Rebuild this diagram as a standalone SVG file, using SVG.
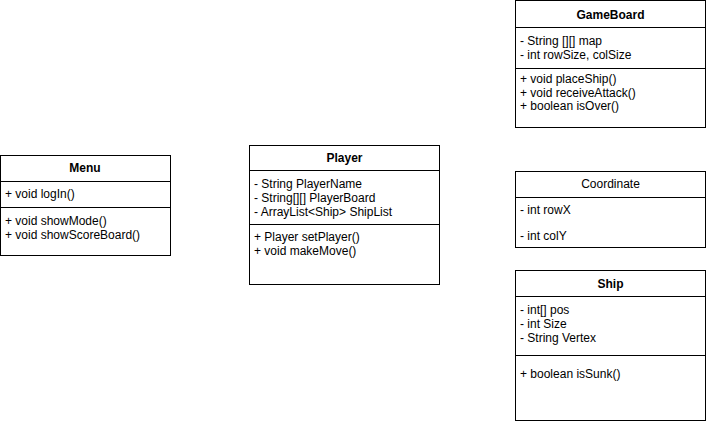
<svg xmlns="http://www.w3.org/2000/svg" width="707" height="424" viewBox="0 0 707 424">
<style>
.box{fill:#fff;stroke:#000;stroke-width:1}
.ln{stroke:#000;stroke-width:1}
text{font-family:"Liberation Sans",Arial,sans-serif;font-size:12px;fill:#000}
.t{text-anchor:middle}
.b{font-weight:bold}
</style>
<rect width="707" height="424" fill="#fff"/>
<g id="Menu">
<rect class="box" x="0.5" y="155.5" width="170" height="100"/>
<line class="ln" x1="0.5" y1="181.5" x2="170.5" y2="181.5"/>
<line class="ln" x1="0.5" y1="207.5" x2="170.5" y2="207.5"/>
<text class="t b" x="85" y="172">Menu</text>
<text x="5" y="198">+ void logIn()</text>
<text x="5" y="225">+ void showMode()</text>
<text x="5" y="239">+ void showScoreBoard()</text>
</g>
<g id="Player">
<rect class="box" x="249.5" y="145.5" width="190" height="139"/>
<line class="ln" x1="249.5" y1="170.5" x2="439.5" y2="170.5"/>
<line class="ln" x1="249.5" y1="224.5" x2="439.5" y2="224.5"/>
<text class="t b" x="344.5" y="162">Player</text>
<text x="254" y="188">- String PlayerName</text>
<text x="254" y="202">- String[][] PlayerBoard</text>
<text x="254" y="216">- ArrayList&lt;Ship&gt; ShipList</text>
<text x="254" y="241">+ Player setPlayer()</text>
<text x="254" y="255">+ void makeMove()</text>
</g>
<g id="GameBoard">
<rect class="box" x="515.5" y="0.5" width="190" height="127"/>
<line class="ln" x1="515.5" y1="27.5" x2="705.5" y2="27.5"/>
<line class="ln" x1="515.5" y1="68.5" x2="705.5" y2="68.5"/>
<text class="t b" x="610.5" y="19">GameBoard</text>
<text x="520" y="45">- String [][] map</text>
<text x="520" y="58.5">- int rowSize, colSize</text>
<text x="520" y="83">+ void placeShip()</text>
<text x="520" y="96.5">+ void receiveAttack()</text>
<text x="520" y="110">+ boolean isOver()</text>
</g>
<g id="Coordinate">
<rect class="box" x="515.5" y="171.5" width="190" height="76"/>
<line class="ln" x1="515.5" y1="197.5" x2="705.5" y2="197.5"/>
<text class="t" x="610.5" y="188">Coordinate</text>
<text x="520" y="214">- int rowX</text>
<text x="520" y="240">- int colY</text>
</g>
<g id="Ship">
<rect class="box" x="515.5" y="270.5" width="190" height="150"/>
<line class="ln" x1="515.5" y1="296.5" x2="705.5" y2="296.5"/>
<line class="ln" x1="515.5" y1="355.5" x2="705.5" y2="355.5"/>
<text class="t b" x="610.5" y="288">Ship</text>
<text x="520" y="314">- int[] pos</text>
<text x="520" y="328">- int Size</text>
<text x="520" y="342">- String Vertex</text>
<text x="520" y="378">+ boolean isSunk()</text>
</g>
<g id="connectors"></g>
</svg>
